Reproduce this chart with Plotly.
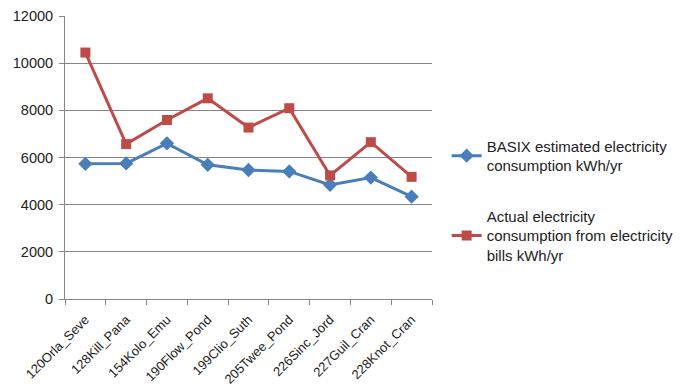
import plotly.graph_objects as go

categories = ["120Orla_Seve", "128Kill_Pana", "154Kolo_Emu", "190Flow_Pond", "199Clio_Suth",
              "205Twee_Pond", "226Sinc_Jord", "227Guil_Cran", "228Knot_Cran"]
basix = [5730, 5750, 6600, 5690, 5470, 5410, 4840, 5150, 4340]
actual = [10450, 6570, 7590, 8510, 7270, 8090, 5240, 6650, 5180]
y_ticks = [0, 2000, 4000, 6000, 8000, 10000, 12000]
y_ticktext = [str(v) for v in y_ticks]

font_family = "Liberation Sans, Arial, sans-serif"

fig = go.Figure()
fig.add_trace(go.Scatter(
    x=categories, y=basix, mode="lines+markers",
    name="BASIX estimated electricity<br>consumption kWh/yr",
    line=dict(color="#4A7EBB", width=3),
    marker=dict(symbol="diamond", size=11, color="#4A7EBB"),
    legendgroup="a",
))
fig.add_trace(go.Scatter(
    x=categories, y=actual, mode="lines+markers",
    name="Actual electricity<br>consumption from electricity<br>bills kWh/yr",
    line=dict(color="#BE4B48", width=3),
    marker=dict(symbol="square", size=10, color="#BE4B48"),
    legendgroup="b",
))

fig.update_layout(
    width=684, height=389,
    margin=dict(l=65, r=252, t=16, b=90, autoexpand=False),
    paper_bgcolor="white", plot_bgcolor="white",
    font=dict(family=font_family, size=14, color="#222"),
    showlegend=True,
    legend=dict(
        xref="container", yref="container",
        x=0.653, y=0.484, xanchor="left", yanchor="middle",
        font=dict(size=15, color="#222"),
        tracegroupgap=28,
        itemwidth=30,
        bgcolor="rgba(0,0,0,0)",
    ),
)
fig.update_xaxes(
    type="category", range=[-0.5, 8.5], automargin=False,
    tickangle=-45, tickson="boundaries",
    ticks="outside", ticklen=5, tickcolor="#868686",
    ticklabelstandoff=7,
    showline=True, linecolor="#868686", linewidth=1,
    showgrid=False, tickfont=dict(size=13),
)
fig.update_yaxes(
    range=[0, 12000], tickvals=y_ticks, ticktext=y_ticktext, automargin=False,
    ticks="outside", ticklen=5, tickcolor="#868686",
    ticklabelstandoff=3,
    showline=True, linecolor="#868686", linewidth=1,
    showgrid=True, gridcolor="#868686", gridwidth=1,
    zeroline=False, tickfont=dict(size=14.5),
)

fig.write_html("out.html")
